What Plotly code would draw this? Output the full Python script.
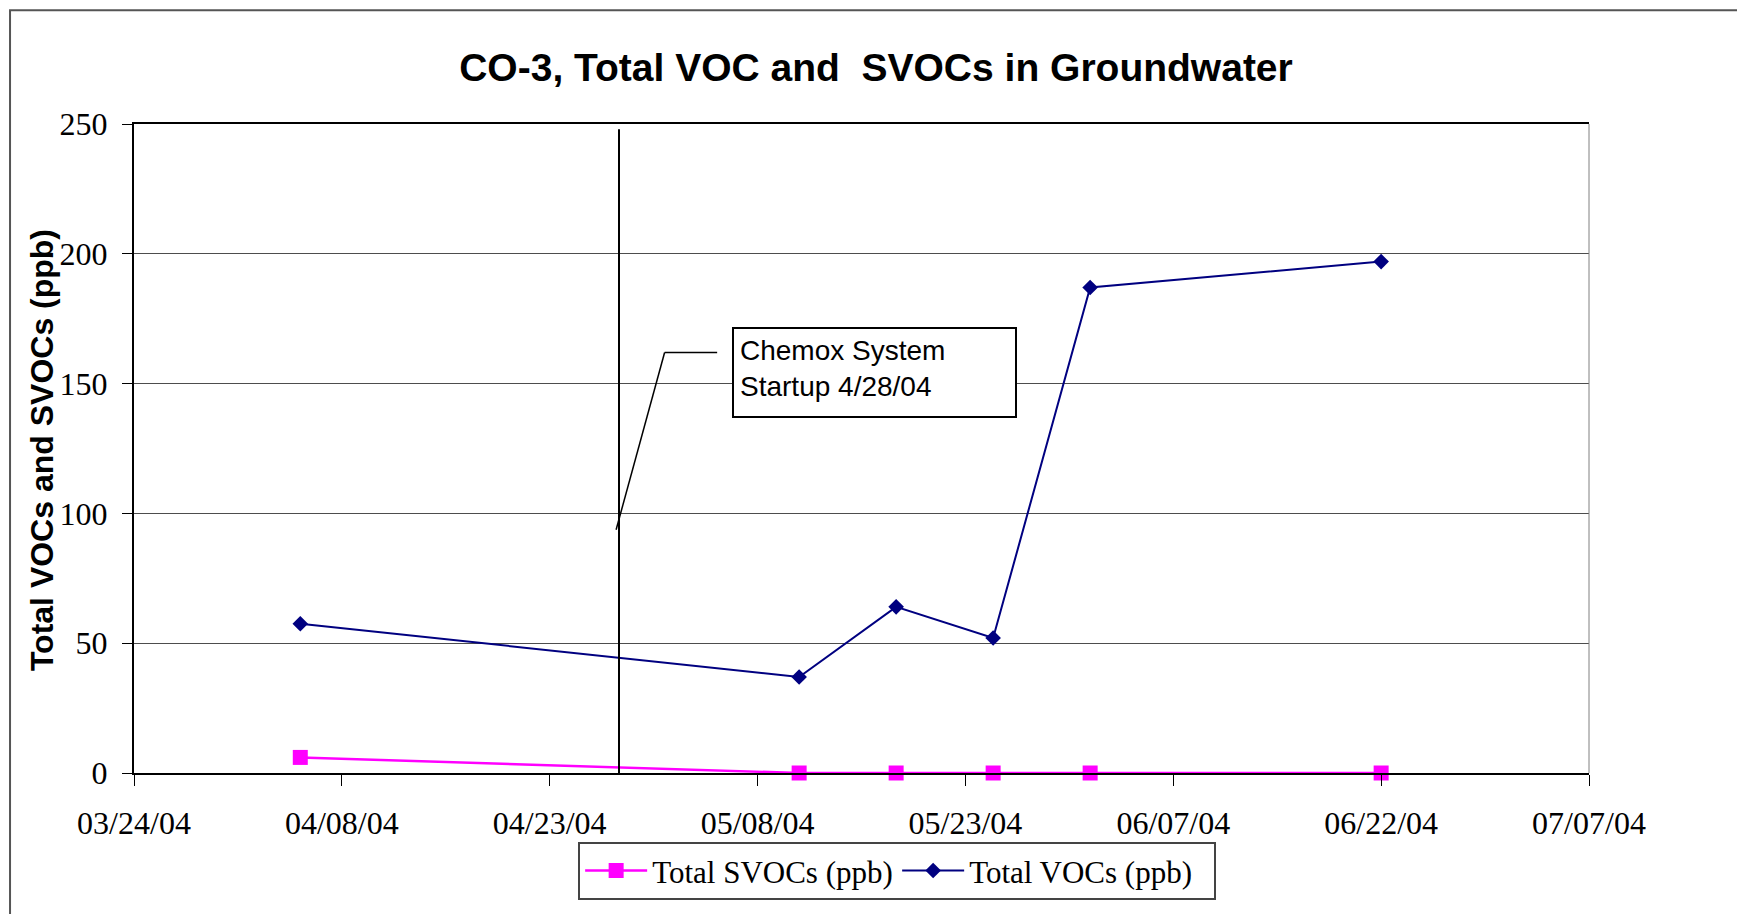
import plotly.graph_objects as go

# ---- data ----
sample_dates = ["2004-04-05", "2004-05-11", "2004-05-18", "2004-05-25", "2004-06-01", "2004-06-22"]
total_svocs = [6.0, 0.0, 0.0, 0.0, 0.0, 0.0]
total_vocs = [57.5, 37.0, 64.0, 52.0, 187.0, 197.0]

startup_date = "2004-04-28"
startup_label = "Chemox System<br>Startup 4/28/04"

x_range = ["2004-03-24", "2004-07-07"]
y_range = [0, 250]
y_ticks = [0, 50, 100, 150, 200, 250]

title_text = "CO-3, Total VOC and  SVOCs in Groundwater"
y_title_text = "Total VOCs and SVOCs (ppb)"

SANS = "Liberation Sans, Arial, sans-serif"
SERIF = "Liberation Serif, Times New Roman, serif"

fig = go.Figure()

fig.add_trace(go.Scatter(
    x=sample_dates, y=total_svocs, name="Total SVOCs (ppb)",
    mode="lines+markers",
    line=dict(color="#FF00FF", width=2.5),
    marker=dict(symbol="square", size=15, color="#FF00FF"),
    cliponaxis=False,
))
fig.add_trace(go.Scatter(
    x=sample_dates, y=total_vocs, name="Total VOCs (ppb)",
    mode="lines+markers",
    line=dict(color="#000080", width=2),
    marker=dict(symbol="diamond", size=12, color="#000080"),
    cliponaxis=False,
))

shapes = []
# outer chart border
shapes.append(dict(type="rect", xref="paper", yref="paper",
                   x0=-0.0852, x1=1.2, y0=-0.4, y1=1.1754,
                   line=dict(color="#555555", width=2), layer="below"))
# right border of plot area
shapes.append(dict(type="line", xref="paper", yref="paper",
                   x0=1, x1=1, y0=0, y1=1,
                   line=dict(color="#808080", width=1)))
# startup vertical line
shapes.append(dict(type="line", xref="x", yref="y",
                   x0=startup_date, x1=startup_date, y0=0, y1=248,
                   line=dict(color="black", width=2)))
# callout leader line
shapes.append(dict(type="line", xref="x", yref="y",
                   x0="2004-04-27 19:00", y0=93.7, x1="2004-05-01 07:00", y1=162,
                   line=dict(color="black", width=1.5)))
shapes.append(dict(type="line", xref="x", yref="y",
                   x0="2004-05-01 07:00", y0=162, x1="2004-05-05 02:00", y1=162,
                   line=dict(color="black", width=1.5)))

annotations = [
    dict(text=startup_label, xref="paper", yref="paper",
         x=0.5088, y=0.617, xanchor="center", yanchor="middle",
         showarrow=False, align="left", valign="top",
         width=269, height=75, borderpad=6,
         bordercolor="black", borderwidth=2, bgcolor="white",
         font=dict(family=SANS, size=28, color="black")),
    dict(text="<b>" + y_title_text + "</b>", xref="paper", yref="paper",
         x=-0.0628, y=0.497, xanchor="center", yanchor="middle",
         textangle=-90, showarrow=False,
         font=dict(family=SANS, size=32, color="black")),
]

fig.update_layout(
    width=1737, height=906,
    margin=dict(l=125.5, r=156, t=115.5, b=140.5),
    paper_bgcolor="white", plot_bgcolor="white",
    title=dict(text="<b>" + title_text + "</b>", x=0.4997, xref="container",
               y=0.9349, yref="container", xanchor="center", yanchor="middle",
               font=dict(family=SANS, size=39, color="black")),
    showlegend=True,
    legend=dict(orientation="h", x=0.5245, y=-0.1508, xanchor="center", yanchor="middle",
                xref="paper", yref="paper",
                bordercolor="#444444", borderwidth=2, bgcolor="white",
                font=dict(family=SERIF, size=31, color="black"),
                itemwidth=62, entrywidth=240, tracegroupgap=0),
    shapes=shapes,
    annotations=annotations,
)

fig.update_xaxes(
    type="date", range=x_range, tick0=x_range[0], dtick=15 * 86400000,
    tickformat="%m/%d/%y", ticks="outside", ticklen=11, tickcolor="black", tickwidth=1,
    showline=True, linecolor="black", linewidth=2, mirror=True,
    showgrid=False, zeroline=False,
    tickfont=dict(family=SERIF, size=32, color="black"),
    ticklabelstandoff=10,
)
fig.update_yaxes(
    range=y_range, tickvals=y_ticks, ticks="outside", ticklen=10, tickcolor="black",
    showline=True, linecolor="black", linewidth=2,
    showgrid=True, gridcolor="#4d4d4d", gridwidth=1, zeroline=False,
    tickfont=dict(family=SERIF, size=32, color="black"),
    ticklabelstandoff=8,
)

fig.write_html("out.html")
